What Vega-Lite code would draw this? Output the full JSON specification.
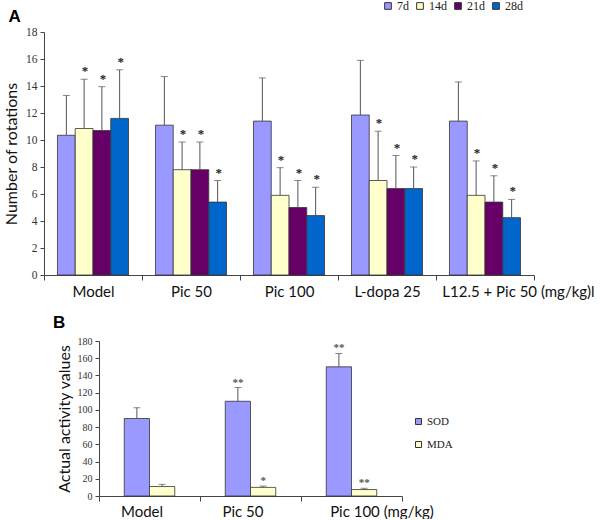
{
  "$schema": "https://vega.github.io/schema/vega-lite/v6.json",
  "padding": {"left": 3, "top": 0, "right": 0, "bottom": 0},
  "background": "white",
  "config": {
    "view": {"stroke": null},
    "axis": {"grid": false, "domainColor": "#444", "tickColor": "#444", "labelColor": "#333"}
  },
  "resolve": {"scale": {"color": "independent", "xOffset": "independent"}, "legend": {"color": "independent"}},
  "spacing": 15,
  "vconcat": [
    {
      "title": {"text": "A", "anchor": "start", "fontSize": 17, "font": "Liberation Sans", "fontWeight": "bold", "dx": 5, "offset": -26},
      "width": 490,
      "height": 243,
      "data": {"values": [
        {"group": "Model", "day": "7d", "value": 10.35, "err": 13.3, "sig": ""},
        {"group": "Model", "day": "14d", "value": 10.85, "err": 14.5, "sig": "*"},
        {"group": "Model", "day": "21d", "value": 10.7, "err": 13.95, "sig": "*"},
        {"group": "Model", "day": "28d", "value": 11.6, "err": 15.2, "sig": "*"},
        {"group": "Pic 50", "day": "7d", "value": 11.1, "err": 14.7, "sig": ""},
        {"group": "Pic 50", "day": "14d", "value": 7.8, "err": 9.85, "sig": "*"},
        {"group": "Pic 50", "day": "21d", "value": 7.8, "err": 9.85, "sig": "*"},
        {"group": "Pic 50", "day": "28d", "value": 5.4, "err": 7.0, "sig": "*"},
        {"group": "Pic 100", "day": "7d", "value": 11.4, "err": 14.6, "sig": ""},
        {"group": "Pic 100", "day": "14d", "value": 5.9, "err": 7.95, "sig": "*"},
        {"group": "Pic 100", "day": "21d", "value": 5.0, "err": 7.0, "sig": "*"},
        {"group": "Pic 100", "day": "28d", "value": 4.4, "err": 6.5, "sig": "*"},
        {"group": "L-dopa 25", "day": "7d", "value": 11.85, "err": 15.9, "sig": ""},
        {"group": "L-dopa 25", "day": "14d", "value": 7.0, "err": 10.65, "sig": "*"},
        {"group": "L-dopa 25", "day": "21d", "value": 6.4, "err": 8.85, "sig": "*"},
        {"group": "L-dopa 25", "day": "28d", "value": 6.4, "err": 8.0, "sig": "*"},
        {"group": "L12.5 + Pic 50 (mg/kg)l", "day": "7d", "value": 11.4, "err": 14.3, "sig": ""},
        {"group": "L12.5 + Pic 50 (mg/kg)l", "day": "14d", "value": 5.9, "err": 8.45, "sig": "*"},
        {"group": "L12.5 + Pic 50 (mg/kg)l", "day": "21d", "value": 5.4, "err": 7.35, "sig": "*"},
        {"group": "L12.5 + Pic 50 (mg/kg)l", "day": "28d", "value": 4.25, "err": 5.6, "sig": "*"}
      ]},
      "encoding": {
        "x": {
          "field": "group", "type": "nominal", "sort": null,
          "scale": {"paddingInner": 0, "paddingOuter": 0},
          "axis": {
            "title": null, "labelAngle": 0, "labelFont": "Lato", "labelFontSize": 15, "labelColor": "#111",
            "tickBand": "extent", "tickSize": 5, "labelPadding": 4, "labelOverlap": false, "labelBound": false,
            "labelOffset": {"condition": {"test": "datum.value == 'L12.5 + Pic 50 (mg/kg)l'", "value": 33}, "value": 0}
          }
        },
        "xOffset": {"field": "day", "type": "nominal", "sort": ["7d", "14d", "21d", "28d"], "scale": {"domain": ["7d", "14d", "21d", "28d"], "paddingInner": 0, "paddingOuter": 0.76}}
      },
      "layer": [
        {
          "mark": {"type": "bar", "stroke": "#333", "strokeWidth": 0.8},
          "encoding": {
            "y": {"field": "value", "type": "quantitative", "scale": {"domain": [0, 18]},
              "axis": {"title": "Number of rotations", "titleFont": "Lato", "titleFontSize": 16, "titleFontWeight": "normal", "titleColor": "#111",
                "values": [0, 2, 4, 6, 8, 10, 12, 14, 16, 18], "labelFont": "Liberation Serif", "labelFontSize": 11.5, "tickSize": 4, "labelPadding": 3, "titlePadding": 6, "labelOverlap": false}},
            "color": {
              "field": "day", "type": "nominal", "sort": ["7d", "14d", "21d", "28d"],
              "scale": {"domain": ["7d", "14d", "21d", "28d"], "range": ["#9999FF", "#FFFFCC", "#660066", "#0066CC"]},
              "legend": {"orient": "none", "legendX": 338, "legendY": -32, "direction": "horizontal", "title": null,
                "symbolType": "square", "symbolSize": 45, "symbolStrokeColor": "#333", "symbolStrokeWidth": 1,
                "labelFont": "Liberation Serif", "labelFontSize": 12, "labelColor": "#222", "columnPadding": 5, "labelOffset": 3}
            }
          }
        },
        {
          "mark": {"type": "rule", "color": "#555", "strokeWidth": 1},
          "encoding": {"y": {"field": "value", "type": "quantitative", "scale": {"domain": [0, 18]},
              "axis": {"title": "Number of rotations", "titleFont": "Lato", "titleFontSize": 16, "titleFontWeight": "normal", "titleColor": "#111",
                "values": [0, 2, 4, 6, 8, 10, 12, 14, 16, 18], "labelFont": "Liberation Serif", "labelFontSize": 11.5, "tickSize": 4, "labelPadding": 3, "titlePadding": 6, "labelOverlap": false}},
            "y2": {"field": "err"}}
        },
        {
          "mark": {"type": "tick", "color": "#555", "thickness": 1, "size": 7},
          "encoding": {"y": {"field": "err", "type": "quantitative", "scale": {"domain": [0, 18]},
              "axis": {"title": "Number of rotations", "titleFont": "Lato", "titleFontSize": 16, "titleFontWeight": "normal", "titleColor": "#111",
                "values": [0, 2, 4, 6, 8, 10, 12, 14, 16, 18], "labelFont": "Liberation Serif", "labelFontSize": 11.5, "tickSize": 4, "labelPadding": 3, "titlePadding": 6, "labelOverlap": false}}}
        },
        {
          "mark": {"type": "text", "font": "Liberation Serif", "fontSize": 13, "fontWeight": "bold", "color": "#222", "baseline": "alphabetic", "dy": -4, "dx": 1},
          "encoding": {"y": {"field": "err", "type": "quantitative", "scale": {"domain": [0, 18]},
              "axis": {"title": "Number of rotations", "titleFont": "Lato", "titleFontSize": 16, "titleFontWeight": "normal", "titleColor": "#111",
                "values": [0, 2, 4, 6, 8, 10, 12, 14, 16, 18], "labelFont": "Liberation Serif", "labelFontSize": 11.5, "tickSize": 4, "labelPadding": 3, "titlePadding": 6, "labelOverlap": false}},
            "text": {"field": "sig"}}
        }
      ]
    },
    {
      "spacing": 0,
      "hconcat": [
        {"width": 8, "height": 10, "data": {"values": []}, "mark": "point"},
        {
          "title": {"text": "B", "anchor": "start", "fontSize": 17, "font": "Liberation Sans", "fontWeight": "bold", "dx": -3, "offset": 4},
          "width": 303,
          "height": 155,
          "data": {"values": [
            {"group": "Model", "measure": "SOD", "value": 90, "err": 102.5, "sig": ""},
            {"group": "Model", "measure": "MDA", "value": 11, "err": 13.5, "sig": ""},
            {"group": "Pic 50", "measure": "SOD", "value": 110, "err": 126, "sig": "**"},
            {"group": "Pic 50", "measure": "MDA", "value": 10, "err": 11.5, "sig": "*"},
            {"group": "Pic 100 (mg/kg)", "measure": "SOD", "value": 150, "err": 165.5, "sig": "**"},
            {"group": "Pic 100 (mg/kg)", "measure": "MDA", "value": 7.5, "err": 9, "sig": "**"}
          ]},
          "encoding": {
            "x": {
              "field": "group", "type": "nominal", "sort": null,
              "scale": {"paddingInner": 0, "paddingOuter": 0},
              "axis": {
                "title": null, "labelAngle": 0, "labelFont": "Lato", "labelFontSize": 15, "labelColor": "#111",
                "tickBand": "extent", "tickSize": 5, "labelPadding": 3, "labelOverlap": false, "labelBound": false,
                "labelOffset": {"condition": {"test": "datum.value == 'Pic 100 (mg/kg)'", "value": 30}, "value": -8}
              }
            },
            "xOffset": {"field": "measure", "type": "nominal", "sort": ["SOD", "MDA"], "scale": {"domain": ["SOD", "MDA"], "paddingInner": 0, "paddingOuter": 1.24}}
          },
          "layer": [
            {
              "mark": {"type": "bar", "stroke": "#333", "strokeWidth": 0.8},
              "encoding": {
                "y": {"field": "value", "type": "quantitative", "scale": {"domain": [0, 180]},
                  "axis": {"title": "Actual activity values", "titleFont": "Lato", "titleFontSize": 16, "titleFontWeight": "normal", "titleColor": "#111",
                    "values": [0, 20, 40, 60, 80, 100, 120, 140, 160, 180], "labelFont": "Liberation Serif", "labelFontSize": 10, "tickSize": 4, "labelPadding": 3, "titlePadding": 5, "labelOverlap": false}},
                "color": {
                  "field": "measure", "type": "nominal", "sort": ["SOD", "MDA"],
                  "scale": {"domain": ["SOD", "MDA"], "range": ["#9999FF", "#FFFFCC"]},
                  "legend": {"orient": "none", "legendX": 369, "legendY": 75, "direction": "vertical", "title": null,
                    "symbolType": "square", "symbolSize": 36, "symbolStrokeColor": "#333", "symbolStrokeWidth": 1,
                    "labelFont": "Liberation Serif", "labelFontSize": 11, "labelColor": "#222", "rowPadding": 11, "labelOffset": 3}
                }
              }
            },
            {
              "mark": {"type": "rule", "color": "#555", "strokeWidth": 1},
              "encoding": {"y": {"field": "value", "type": "quantitative", "scale": {"domain": [0, 180]},
                  "axis": {"title": "Actual activity values", "titleFont": "Lato", "titleFontSize": 16, "titleFontWeight": "normal", "titleColor": "#111",
                    "values": [0, 20, 40, 60, 80, 100, 120, 140, 160, 180], "labelFont": "Liberation Serif", "labelFontSize": 10, "tickSize": 4, "labelPadding": 3, "titlePadding": 5, "labelOverlap": false}},
                "y2": {"field": "err"}}
            },
            {
              "mark": {"type": "tick", "color": "#555", "thickness": 1, "size": 7},
              "encoding": {"y": {"field": "err", "type": "quantitative", "scale": {"domain": [0, 180]},
                  "axis": {"title": "Actual activity values", "titleFont": "Lato", "titleFontSize": 16, "titleFontWeight": "normal", "titleColor": "#111",
                    "values": [0, 20, 40, 60, 80, 100, 120, 140, 160, 180], "labelFont": "Liberation Serif", "labelFontSize": 10, "tickSize": 4, "labelPadding": 3, "titlePadding": 5, "labelOverlap": false}}}
            },
            {
              "mark": {"type": "text", "font": "Liberation Serif", "fontSize": 11, "fontWeight": "bold", "color": "#555", "baseline": "alphabetic", "dy": -2},
              "encoding": {"y": {"field": "err", "type": "quantitative", "scale": {"domain": [0, 180]},
                  "axis": {"title": "Actual activity values", "titleFont": "Lato", "titleFontSize": 16, "titleFontWeight": "normal", "titleColor": "#111",
                    "values": [0, 20, 40, 60, 80, 100, 120, 140, 160, 180], "labelFont": "Liberation Serif", "labelFontSize": 10, "tickSize": 4, "labelPadding": 3, "titlePadding": 5, "labelOverlap": false}},
                "text": {"field": "sig"}}
            }
          ]
        }
      ]
    }
  ]
}
